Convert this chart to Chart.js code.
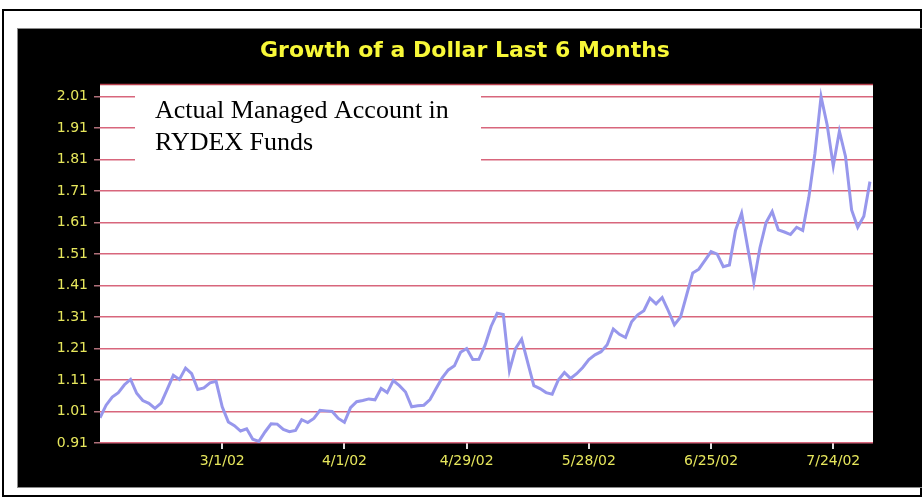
<!DOCTYPE html>
<html>
<head>
<meta charset="utf-8">
<title>Growth of a Dollar</title>
<script src="https://cdn.jsdelivr.net/npm/chart.js@4/dist/chart.umd.min.js"></script>
<style>
  html, body { margin: 0; padding: 0; background: #fff; }
  canvas { display: block; }
</style>
</head>
<body>
<canvas id="growthChart" width="922" height="498"></canvas>
<script>
// daily value of $1, one point per trading day (late Jan 2002 .. late Jul 2002)
const growth = [
  0.99, 1.03, 1.056, 1.07, 1.095, 1.112, 1.068, 1.045, 1.036, 1.02,
  1.037, 1.08, 1.125, 1.112, 1.148, 1.13, 1.08, 1.085, 1.101, 1.106,
  1.025, 0.977, 0.965, 0.948, 0.955, 0.922, 0.915, 0.945, 0.971, 0.97,
  0.953, 0.946, 0.95, 0.984, 0.975, 0.988, 1.014, 1.012, 1.01, 0.988,
  0.976, 1.022, 1.041, 1.045, 1.05, 1.047, 1.083, 1.07, 1.108, 1.092,
  1.072, 1.025, 1.028, 1.03, 1.048, 1.083, 1.117, 1.142, 1.155, 1.198,
  1.21, 1.175, 1.176, 1.22, 1.28, 1.322, 1.318, 1.14, 1.21, 1.24,
  1.165, 1.092, 1.083, 1.07, 1.065, 1.11, 1.134, 1.115, 1.13, 1.15,
  1.175, 1.19, 1.2, 1.222, 1.272, 1.255, 1.245, 1.295, 1.317, 1.33,
  1.37, 1.352, 1.372, 1.33, 1.285, 1.31, 1.38, 1.45, 1.462, 1.49,
  1.518, 1.51, 1.47, 1.475, 1.585, 1.64, 1.53, 1.42, 1.53, 1.61,
  1.645, 1.587, 1.58, 1.572, 1.595, 1.585, 1.69, 1.83, 2.01, 1.92,
  1.79, 1.9, 1.82, 1.65, 1.595, 1.63, 1.74
];

// date labels and the trading-day index they sit on
const tickLabels = ['3/1/02', '4/1/02', '4/29/02', '5/28/02', '6/25/02', '7/24/02'];
const tickIndex = [20, 40, 60, 80, 100, 120];

const yTicks = [0.91, 1.01, 1.11, 1.21, 1.31, 1.41, 1.51, 1.61, 1.71, 1.81, 1.91, 2.01];

const noteLines = ['Actual Managed Account in', 'RYDEX Funds'];

const labelColor = '#e6e65c';
const gridColor = '#d8667c';

// page frame, black panel and white plot area
const framePlugin = {
  id: 'frame',
  beforeDraw(chart) {
    const ctx = chart.ctx;
    const a = chart.chartArea;
    ctx.save();
    ctx.fillStyle = '#fff';
    ctx.fillRect(0, 0, chart.width, chart.height);
    ctx.strokeStyle = '#000';
    ctx.lineWidth = 2;
    ctx.strokeRect(3, 10, 918, 486);
    ctx.fillStyle = '#000';
    ctx.fillRect(17, 28, 905, 460);
    ctx.strokeStyle = '#8a8a8a';
    ctx.lineWidth = 1;
    ctx.strokeRect(17.5, 28.5, 910, 459);
    ctx.fillStyle = '#fff';
    ctx.fillRect(a.left, a.top, a.right - a.left, a.bottom - a.top);
    ctx.strokeStyle = '#b8404e';
    ctx.lineWidth = 1.5;
    ctx.beginPath();
    ctx.moveTo(a.left, a.top + 0.5);
    ctx.lineTo(a.right, a.top + 0.5);
    ctx.stroke();
    ctx.restore();
  }
};

// text box in the upper left of the plot
const notePlugin = {
  id: 'note',
  afterDraw(chart) {
    const ctx = chart.ctx;
    ctx.save();
    ctx.fillStyle = '#fff';
    ctx.fillRect(135, 86, 346, 75);
    ctx.fillStyle = '#000';
    ctx.font = '26px "Liberation Serif", "Times New Roman", serif';
    ctx.textBaseline = 'alphabetic';
    noteLines.forEach((t, i) => ctx.fillText(t, 155, 118 + i * 32));
    ctx.restore();
  }
};

new Chart(document.getElementById('growthChart'), {
  type: 'line',
  data: {
    datasets: [{
      label: 'Growth of a Dollar',
      data: growth.map((v, i) => ({ x: i, y: v })),
      borderColor: '#9797ec',
      borderWidth: 3,
      pointRadius: 0,
      tension: 0
    }]
  },
  options: {
    responsive: false,
    animation: false,
    layout: { padding: { left: 57, right: 49, top: 28, bottom: 10 } },
    plugins: {
      legend: { display: false },
      tooltip: { enabled: false },
      title: {
        display: true,
        text: 'Growth of a Dollar Last 6 Months',
        color: '#f8f838',
        font: { family: '"DejaVu Sans", sans-serif', size: 22, weight: 'bold', lineHeight: 1.2 },
        padding: { top: 10, bottom: 19.6 }
      }
    },
    scales: {
      x: {
        type: 'linear',
        min: 0,
        max: 126.5,
        afterFit: s => { s.height = 45; },
        afterBuildTicks: s => { s.ticks = tickIndex.map(v => ({ value: v })); },
        border: { display: false },
        grid: { drawOnChartArea: false, tickLength: 6, color: '#e0e0e0', lineWidth: 2 },
        ticks: {
          autoSkip: false,
          maxRotation: 0,
          padding: 4,
          color: labelColor,
          font: { family: '"DejaVu Sans", sans-serif', size: 14 },
          callback: v => tickLabels[tickIndex.indexOf(v)]
        }
      },
      y: {
        min: 0.91,
        max: 2.05,
        afterFit: s => { s.width = 43; },
        afterBuildTicks: s => { s.ticks = yTicks.map(v => ({ value: v })); },
        border: { display: false },
        grid: { color: gridColor, lineWidth: 1.5, tickLength: 6, tickColor: '#b0707a' },
        ticks: {
          padding: 6,
          color: labelColor,
          font: { family: '"DejaVu Sans", sans-serif', size: 14 },
          callback: v => v.toFixed(2)
        }
      }
    }
  },
  plugins: [framePlugin, notePlugin]
});
</script>
</body>
</html>
